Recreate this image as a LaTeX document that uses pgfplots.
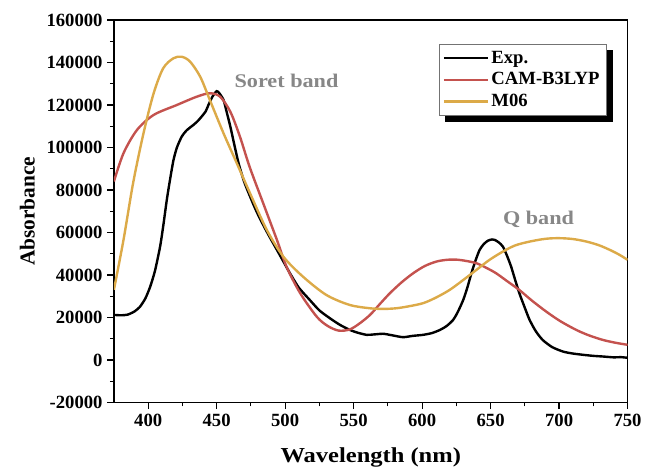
\documentclass[border=0pt]{standalone}
\usepackage{fontspec}
\setmainfont{Liberation Serif}
\usepackage{graphicx}
\usepackage{pgfplots}
\pgfplotsset{compat=1.18}
\definecolor{camred}{RGB}{196,82,78}
\definecolor{mgold}{RGB}{220,170,72}
\definecolor{bandgray}{RGB}{135,135,135}

\begin{document}
\begin{tikzpicture}
\begin{axis}[
  scale only axis,
  width=385.5pt, height=287pt,
  xmin=375, xmax=750,
  ymin=-20000, ymax=160000,
  xtick={400,450,500,550,600,650,700,750},
  ytick={-20000,0,20000,40000,60000,80000,100000,120000,140000,160000},
  minor x tick num=1, minor y tick num=1,
  xtick pos=left, ytick pos=left,
  tick align=outside,
  major tick length=5pt, minor tick length=3pt,
  every tick/.style={black, line width=0.9pt},
  axis line style={line width=1pt},
  /pgf/number format/assume math mode=true,
  /pgf/number format/1000 sep={},
  /pgf/number format/fixed,
  scaled y ticks=false,
  tick label style={font=\fontsize{14}{16}\selectfont\bfseries},
  label style={font=\fontsize{16}{18}\selectfont\bfseries},
  xlabel={\scalebox{1.15}[1]{Wavelength (nm)}},
  xlabel style={yshift=-9pt},
  ylabel={Absorbance},
  ylabel style={yshift=2pt},
  legend style={name=legnode, at={(0.959,0.937)}, anchor=north east,
    font=\fontsize{14}{16.5}\selectfont\bfseries,
    draw=black!55, fill=white,
    row sep=1.5pt, inner xsep=3pt, inner ysep=3pt},
  legend cell align=left,
  legend image code/.code={\draw[#1] (0cm,0cm) -- (1.15cm,0cm);},
]
\addplot[black, line width=1.8pt, smooth, tension=0.4] coordinates {
(375,21200) (380,21000) (385,21300) (390,22800) (394,25000) (398,29000)
(401.5,34500) (405,42000) (408.7,53300) (411,63000) (413.6,75300) (416,85000)
(418.5,94100) (421,100000) (424.5,105100) (428,108000) (433,110600) (436,112300)
(439,114500) (442,117000) (444,120000) (447,124000) (450,126500) (452,125500)
(455,122400) (457,117500) (460,109800) (463,101000) (466,92600) (470,84000)
(474.4,76900) (479,70000) (484,63500) (489,57500) (494,51800) (499,46000)
(503.5,40800) (510,34000) (518,28200) (525,23300) (532.7,19600) (540,16500)
(547.3,14100) (553,12800) (559.5,11800) (565,12000) (571.6,12300) (578,11600)
(586,10700) (593,11300) (600.7,11800) (607,12600) (613,14100) (618,16000)
(622.6,18800) (626,22500) (630,28200) (633,34000) (636,40800) (639,46800)
(642,51800) (645,54500) (648,56100) (651,56700) (653,56500) (656,55300)
(659,53300) (662,49000) (665,43900) (668,37500) (671,31400) (675,24500)
(678.5,18800) (683,13500) (688,9400) (695,6000) (703,3900) (710,3000)
(717.5,2400) (725,1900) (732,1600) (740,1200) (745,1300) (750,1000)
};
\addlegendentry{Exp.}
\addplot[camred, line width=1.8pt, smooth] coordinates {
(375,84000) (382,97300) (391.8,108200) (404,115300) (421,120000)
(435.5,123900) (445,125500) (452.5,123900) (460,116800) (467,105100)
(474,91000) (484,73700) (494,56500) (501,43900) (511,31400) (523,20400)
(531,16000) (539,13800) (547,14300) (554,17000) (562,21200) (569,26200)
(576.5,31400) (585,36500) (593.5,40800) (602,44200) (610.5,46300) (618,47100)
(625,47200) (632,46600) (639.7,45500) (647,43300) (654,40800) (662,37100)
(671,32900) (680,28000) (690.7,22700) (701,18200) (712.6,14100) (722,11500)
(732,9400) (741,8100) (750,7100)
};
\addlegendentry{CAM-B3LYP}
\addplot[mgold, line width=1.8pt, smooth] coordinates {
(375,33000) (382,56500) (389,83200) (396.6,106700) (404,125500) (411,137300)
(418.5,142000) (424.5,142700) (430.6,140400) (438,133300) (445,122400)
(455,106700) (464.7,92600) (474.4,78400) (486.6,61200) (498.7,48600)
(513,39200) (530,30600) (547,25900) (562,24300) (572,24000) (581,24300)
(590,25200) (600.7,26700) (610,29300) (620,32900) (630,37600) (639.7,42400)
(649,47000) (659,51000) (668,53900) (678.5,55700) (690,57000) (700,57300)
(710,56900) (720,55700) (729,54000) (737,51800) (744,49500) (750,47100)
};
\addlegendentry{M06}
\node[text=bandgray, font=\fontsize{14.5}{16}\selectfont\bfseries]
  at (axis cs:501,131500) {\scalebox{1.15}[1]{Soret band}};
\node[text=bandgray, font=\fontsize{14.5}{16}\selectfont\bfseries]
  at (axis cs:685,66000) {\scalebox{1.15}[1]{Q band}};
\end{axis}
% legend shadow
\fill[black] ([xshift=4.5pt,yshift=-4.5pt]legnode.south west)
  rectangle ([xshift=4.5pt]legnode.south east);
\fill[black] ([yshift=-4.5pt]legnode.north east)
  rectangle ([xshift=4.5pt,yshift=-4.5pt]legnode.south east);
% page margins as in the reference
\path (current axis.south west) ++(-85.5pt,-52pt);
\path (current axis.north west) ++(0,15pt);
\end{tikzpicture}
\end{document}
